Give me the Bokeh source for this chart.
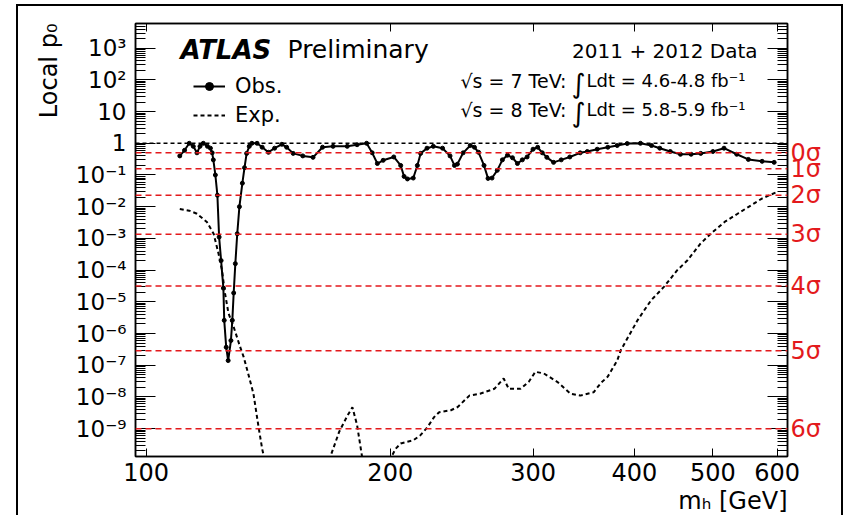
from bokeh.plotting import figure
from bokeh.models import (Range1d, FixedTicker, LogAxis, Span, Label, Legend,
                          LegendItem, CustomJSTickFormatter, Title)
from bokeh.embed import file_html
from bokeh.resources import INLINE

# ---------------- data ----------------
obs_mass = [110, 111.5, 113, 114.3, 115.5, 116.5, 117.6, 119, 120, 120.6,
            121, 121.7, 122.4, 123, 123.7, 124.5, 124.8, 125.5, 126.2, 127.2,
            127.7, 128.2, 128.8, 129.5, 130.3, 131.4, 132.2, 133, 134, 135,
            137, 139, 141.5, 144, 147, 149, 151.8, 156, 160.6, 165,
            170, 177, 182, 187, 190, 192.8, 196, 202, 206, 208,
            210, 213.5, 216, 218, 222, 226, 232, 237, 240, 242,
            246, 251, 254, 257, 261, 264, 267, 271, 275, 279,
            283, 287, 291, 295, 300, 304, 308, 312, 318, 325,
            333, 343, 350, 360, 371, 381, 392, 407, 420, 430,
            443, 456, 470, 483, 500, 516, 535, 553, 575, 595]
obs_p0 = [0.40, 0.6, 1.0, 0.8, 0.5, 0.8, 1.0, 0.8, 0.7, 0.5,
          0.3, 0.1, 0.023, 1.1e-3, 2.0e-4, 2.7e-5, 2.6e-6, 3.7e-7, 1.4e-7, 6.0e-7,
          2.6e-6, 1.9e-5, 1.6e-4, 1.4e-3, 1.0e-2, 5.5e-2, 0.17, 0.48, 0.8, 1.0,
          1.0, 0.75, 0.52, 0.7, 0.93, 0.75, 0.48, 0.4, 0.36, 0.75,
          0.8, 0.8, 0.9, 1.0, 0.5, 0.23, 0.29, 0.37, 0.2, 0.09,
          0.075, 0.08, 0.2, 0.48, 0.7, 0.8, 0.7, 0.4, 0.2, 0.22,
          0.5, 0.85, 0.75, 0.52, 0.2, 0.078, 0.08, 0.14, 0.3, 0.42,
          0.35, 0.23, 0.3, 0.37, 0.65, 0.75, 0.5, 0.36, 0.25, 0.3,
          0.37, 0.5, 0.55, 0.65, 0.75, 0.85, 0.98, 1.0, 0.85, 0.7,
          0.55, 0.45, 0.45, 0.48, 0.55, 0.7, 0.45, 0.31, 0.27, 0.25]

exp_mass = [110, 113, 115.5, 118.8, 121.1, 122.8, 124, 125.1, 126.3, 128.2,
            130.6, 131.9, 133.7, 135.6, 137.6, 139, 142, 150, 160, 165,
            168.7, 173, 177, 179.6, 182, 184.6, 190, 197, 201, 203,
            206, 213.6, 217.9, 222.2, 226.5, 229.8, 237.6, 242.2, 250.4, 258,
            268.8, 276, 280, 289.5, 296.4, 302, 309.3, 321.3, 333.8, 343,
            356.3, 364, 370.8, 381, 385, 403.6, 419.3, 435.3, 451.6, 464.9,
            482.6, 497.6, 516.9, 536.4, 574.6, 599.5]
exp_p0 = [8.5e-3, 7.5e-3, 6.0e-3, 3.3e-3, 1.4e-3, 3.3e-4, 1.0e-4, 1.8e-5, 4.4e-6, 1.6e-6,
          3.7e-7, 1.8e-7, 5.0e-8, 1.26e-8, 1.1e-9, 2.3e-10, 2e-11, 1e-12, 1e-12, 1.5e-11,
          1.3e-10, 8e-10, 2.5e-9, 4.7e-9, 1.3e-9, 1.3e-10, 1e-11, 1e-11, 1.4e-10, 2.3e-10,
          3.4e-10, 4.3e-10, 6.2e-10, 1.1e-9, 2.3e-9, 3.3e-9, 3.8e-9, 4.8e-9, 1.1e-8, 1.26e-8,
          1.8e-8, 3.8e-8, 1.8e-8, 1.8e-8, 3.0e-8, 6.2e-8, 5.5e-8, 3.0e-8, 1.26e-8, 1.1e-8,
          1.4e-8, 2.8e-8, 4.3e-8, 1.4e-7, 3.0e-7, 2.6e-6, 1.1e-5, 3.0e-5, 9.8e-5, 2.0e-4,
          6.8e-4, 1.45e-3, 3.3e-3, 6.0e-3, 1.8e-2, 2.9e-2]

y_ticks = [1e-9, 1e-8, 1e-7, 1e-6, 1e-5, 1e-4, 1e-3, 1e-2, 1e-1, 1, 10, 100, 1000]
y_tick_labels = ["10⁻⁹", "10⁻⁸", "10⁻⁷", "10⁻⁶", "10⁻⁵", "10⁻⁴", "10⁻³",
                 "10⁻²", "10⁻¹", "1", "10", "10²", "10³"]
y_minor = [m * 10.0 ** e for e in range(-10, 4) for m in range(2, 10)]
x_ticks = [100, 200, 300, 400, 500, 600]
x_tick_labels = ["100", "200", "300", "400", "500", "600"]
sigma_p = [0.5, 0.1587, 0.02275, 1.35e-3, 3.167e-5, 2.867e-7, 9.866e-10]
sigma_labels = ["0σ", "1σ", "2σ", "3σ", "4σ", "5σ", "6σ"]
ref_levels = [1.0]

X0, X1 = 97, 618
Y0, Y1 = 1.32e-10, 6.0e3
FONT = "DejaVu Sans"
RED = "#e3191c"

p = figure(width=827, height=511, x_axis_type="log", y_axis_type="log",
           x_range=Range1d(X0, X1), y_range=Range1d(Y0, Y1),
           output_backend="svg", toolbar_location=None,
           min_border_left=117, min_border_top=17, min_border_right=58,
           min_border_bottom=61)
p.margin = (4, 0, 0, 16)
p.styles = {"border-left": "2px solid black", "border-top": "2px solid black",
            "border-right": "2px solid black"}
p.xgrid.visible = False
p.ygrid.visible = False
p.outline_line_color = "black"
p.outline_line_width = 1.5
p.background_fill_color = "white"
p.border_fill_color = "white"

def fmt(vals, labs):
    return CustomJSTickFormatter(args=dict(vals=vals, labs=labs), code="""
        const i = vals.findIndex(t => Math.abs(Math.log(t) - Math.log(tick)) < 1e-6);
        return i >= 0 ? labs[i] : "";
    """)

blank = CustomJSTickFormatter(code='return "";')

# left axis
ya = p.yaxis[0]
ya.ticker = FixedTicker(ticks=y_ticks, minor_ticks=y_minor)
ya.formatter = fmt(y_ticks, y_tick_labels)
ya.major_tick_in = 20
ya.major_tick_out = 0
ya.minor_tick_in = 10
ya.minor_tick_out = 0
ya.axis_line_width = 1.5
ya.major_label_text_font = FONT
ya.major_label_text_font_size = "23px"
ya.major_label_text_color = "black"
ya.major_label_standoff = 9

# bottom axis
xa = p.xaxis[0]
xa.ticker = FixedTicker(ticks=x_ticks, minor_ticks=[])
xa.formatter = fmt(x_ticks, x_tick_labels)
xa.major_tick_in = 8
xa.major_tick_out = 0
xa.minor_tick_in = 0
xa.minor_tick_out = 0
xa.axis_line_width = 1.5
xa.major_label_text_font = FONT
xa.major_label_text_font_size = "24px"
xa.major_label_text_color = "black"
xa.major_label_standoff = 6

# top mirrored axis
top = LogAxis(ticker=FixedTicker(ticks=x_ticks, minor_ticks=[]), formatter=blank,
              major_tick_in=8, major_tick_out=0, minor_tick_in=0, minor_tick_out=0,
              major_label_standoff=0, axis_line_width=1.5)
p.add_layout(top, "above")

# right mirrored axis (ticks only)
rt = LogAxis(ticker=FixedTicker(ticks=y_ticks, minor_ticks=y_minor), formatter=blank,
             major_tick_in=20, major_tick_out=0, minor_tick_in=10, minor_tick_out=0,
             major_label_standoff=0, axis_line_width=1.5)
p.add_layout(rt, "right")

# right sigma labels
rs = LogAxis(ticker=FixedTicker(ticks=sigma_p, minor_ticks=[]),
             formatter=fmt(sigma_p, sigma_labels),
             major_tick_in=0, major_tick_out=0, minor_tick_in=0, minor_tick_out=0,
             axis_line_alpha=0, major_label_text_color=RED,
             major_label_text_font=FONT, major_label_text_font_size="24px",
             major_label_standoff=3)
p.add_layout(rs, "right")

# axis titles
p.add_layout(Title(text="Local p₀", align="right", text_font=FONT,
                   text_font_size="24px", text_font_style="normal",
                   text_color="black", standoff=20, offset=0), "left")
p.add_layout(Title(text="mₕ [GeV]", align="right", text_font=FONT,
                   text_font_size="24px", text_font_style="normal",
                   text_color="black", standoff=2, offset=0), "below")

# reference lines
for lv in sigma_p:
    p.add_layout(Span(location=lv, dimension="width", line_color=RED,
                      line_dash="6 4", line_width=1.5))
for lv in ref_levels:
    p.add_layout(Span(location=lv, dimension="width", line_color="black",
                      line_dash="4 3", line_width=1.5))

# curves
exp_r = p.line(exp_mass, exp_p0, line_color="black", line_width=2, line_dash="4 3")
obs_r = p.line(obs_mass, obs_p0, line_color="black", line_width=2)
obs_m = p.scatter(obs_mass, obs_p0, size=4, color="black")

legend = Legend(items=[LegendItem(label="Obs.", renderers=[obs_r, obs_m]),
                       LegendItem(label="Exp.", renderers=[exp_r])],
                location=(58, 329), border_line_alpha=0, background_fill_alpha=0,
                label_text_font=FONT, label_text_font_size="21px",
                label_text_color="black",
                glyph_width=32, glyph_height=20, label_height=20, spacing=5,
                padding=0, margin=0, label_standoff=10)
p.add_layout(legend)

def tl(text, dx, dy, size, align="left", style="normal", color="black"):
    p.add_layout(Label(x=X0, y=Y1, x_offset=dx, y_offset=-dy, text=text,
                       text_font=FONT, text_font_size=size, text_align=align,
                       text_font_style=style, text_color=color,
                       text_baseline="alphabetic"))

tl("ATLAS", 45, 26, "26px", style="bold italic")
tl("Preliminary", 152, 26, "25px")
tl("2011 + 2012 Data", 622, 27, "20px", align="right")
tl("√s = 7 TeV:", 431, 57, "19px", align="right")
tl("∫", 436, 60, "27px")
tl("Ldt = 4.6-4.8 fb⁻¹", 451, 57, "18px")
tl("√s = 8 TeV:", 431, 86, "19px", align="right")
tl("∫", 436, 89, "27px")
tl("Ldt = 5.8-5.9 fb⁻¹", 451, 86, "18px")

open("out.html", "w").write(file_html(p, INLINE))
